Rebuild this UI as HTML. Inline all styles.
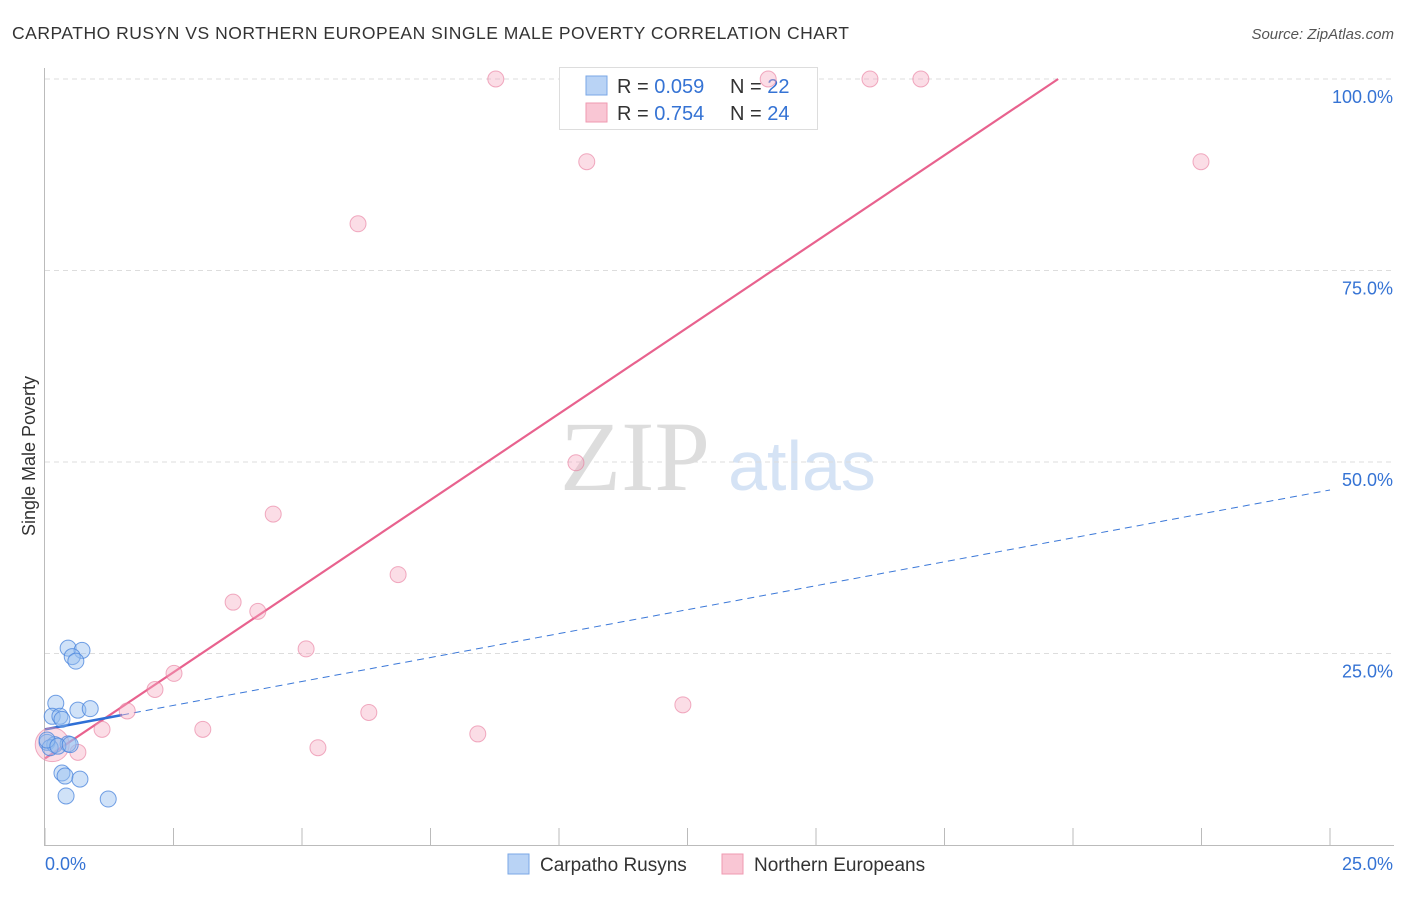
<!DOCTYPE html>
<html><head><meta charset="utf-8"><style>
body{margin:0;background:#fff;font-family:"Liberation Sans",sans-serif;}
</style></head><body>
<svg width="1406" height="892" viewBox="0 0 1406 892" font-family="Liberation Sans, sans-serif">
<text x="12" y="39" font-size="17.5" fill="#333" textLength="837">CARPATHO RUSYN VS NORTHERN EUROPEAN SINGLE MALE POVERTY CORRELATION CHART</text>
<text x="1394" y="39" font-size="15" fill="#555" font-style="italic" text-anchor="end">Source: ZipAtlas.com</text>
<text x="35" y="456" font-size="18" fill="#333" text-anchor="middle" transform="rotate(-90 35 456)">Single Male Poverty</text>
<g><text x="635" y="490" font-size="100" fill="#ddd" style="font-family:'Liberation Serif',serif" text-anchor="middle">ZIP</text><text x="802" y="490" font-size="70" fill="#d5e3f5" text-anchor="middle">atlas</text></g>
<g id="grid"></g><g id="axes"></g>
<g>
<rect x="559.5" y="67.5" width="258" height="62" fill="#fff" stroke="#ddd"/>
<rect x="586" y="76" width="21" height="19" fill="#b9d3f5" stroke="#7aa7e6"/>
<rect x="586" y="103" width="21" height="19" fill="#f9c6d4" stroke="#ef9ab1"/>
<text x="617" y="93" font-size="20" fill="#333">R = <tspan fill="#3573d4">0.059</tspan></text>
<text x="730" y="93" font-size="20" fill="#333">N = <tspan fill="#3573d4">22</tspan></text>
<text x="617" y="120" font-size="20" fill="#333">R = <tspan fill="#3573d4">0.754</tspan></text>
<text x="730" y="120" font-size="20" fill="#333">N = <tspan fill="#3573d4">24</tspan></text>
</g>
<g id="lines"></g><g id="pts"></g>
<g>
<rect x="508" y="854" width="21" height="20" fill="#b9d3f5" stroke="#7aa7e6"/>
<text x="540" y="871" font-size="19" fill="#333">Carpatho Rusyns</text>
<rect x="722" y="854" width="21" height="20" fill="#f9c6d4" stroke="#ef9ab1"/>
<text x="754" y="871" font-size="19" fill="#333">Northern Europeans</text>
</g>
</svg>
<script>
const yTicks=[25,50,75,100];
const yTickLabels=["25.0%","50.0%","75.0%","100.0%"];
const xTicks=[0,2.5,5,7.5,10,12.5,15,17.5,20,22.5,25];
const blueX=[0.45,0.72,0.53,0.6,0.21,0.64,0.88,0.14,0.29,0.33,0.04,0.19,0.45,0.1,0.33,0.39,0.68,0.41,1.23,0.04,0.25,0.49];
const blueY=[25.7,25.4,24.6,24.0,18.5,17.6,17.8,16.8,16.8,16.4,13.4,13.1,13.2,12.7,9.4,9.0,8.6,6.4,6.0,13.7,12.9,13.1];
const pinkX=[8.77,14.07,16.05,17.04,10.54,22.49,6.09,10.33,4.44,6.87,3.66,4.14,5.08,2.51,2.14,1.6,6.3,12.41,1.11,3.07,8.42,5.31,0.64,0.14];
const pinkY=[100,100,100,100,89.2,89.2,81.1,49.9,43.2,35.3,31.7,30.5,25.6,22.4,20.3,17.5,17.3,18.3,15.1,15.1,14.5,12.7,12.1,13.1];
const pinkR=[8,8,8,8,8,8,8,8,8,8,8,8,8,8,8,8,8,8,8,8,8,8,8,17];
const pinkFit=[11.3,4.5], blueFit=[15.1,1.25];
const X=v=>45+v/25*1285, Y=v=>845-v/100*766;
const NS="http://www.w3.org/2000/svg";
function mk(p,t,a){const e=document.createElementNS(NS,t);for(const k in a)e.setAttribute(k,a[k]);document.getElementById(p).appendChild(e);return e;}
yTicks.forEach((t,i)=>{
 const l=mk('grid','line',{x1:45,x2:1394,y1:Y(t),y2:Y(t),stroke:'#ddd','stroke-dasharray':'5,4'});
 
 
 const tx=mk('grid','text',{x:1393,y:Y(t)+24,'font-size':18,fill:'#3573d4','text-anchor':'end'});tx.textContent=yTickLabels[i];
 
 
});
let a=mk('axes','line',{x1:44.5,x2:44.5,y1:68,y2:845,stroke:'#bbb'});


a=mk('axes','line',{x1:44,x2:1394,y1:845.5,y2:845.5,stroke:'#bbb'});


xTicks.forEach(t=>{const l=mk('axes','line',{x1:X(t),x2:X(t),y1:828,y2:845,stroke:'#bbb'});
 
 });
let t1=mk('axes','text',{x:45,y:870,'font-size':18,fill:'#3573d4'});t1.textContent='0.0%';


t1=mk('axes','text',{x:1393,y:870,'font-size':18,fill:'#3573d4','text-anchor':'end'});t1.textContent='25.0%';


const px2=(100-pinkFit[0])/pinkFit[1];
let ln=mk('lines','line',{x1:X(0),y1:Y(pinkFit[0]),x2:X(px2),y2:Y(100),stroke:'#e8628e','stroke-width':2.2});


ln=mk('lines','line',{x1:X(1.5),y1:Y(blueFit[0]+1.5*blueFit[1]),x2:X(25),y2:Y(blueFit[0]+25*blueFit[1]),stroke:'#3b78d8','stroke-width':1,'stroke-dasharray':'7,5'});


ln=mk('lines','line',{x1:X(0),y1:Y(blueFit[0]),x2:X(1.5),y2:Y(blueFit[0]+1.5*blueFit[1]),stroke:'#2f6fd6','stroke-width':2.5});


pinkX.forEach((v,i)=>{const c=mk('pts','circle',{cx:X(v),cy:Y(pinkY[i]),r:pinkR[i],fill:'rgba(246,170,192,0.4)',stroke:'rgba(232,120,155,0.6)'});
 
 });
blueX.forEach((v,i)=>{const c=mk('pts','circle',{cx:X(v),cy:Y(blueY[i]),r:8,fill:'rgba(150,190,240,0.45)',stroke:'rgba(70,130,220,0.75)'});
 
 });
</script>
</body></html>
